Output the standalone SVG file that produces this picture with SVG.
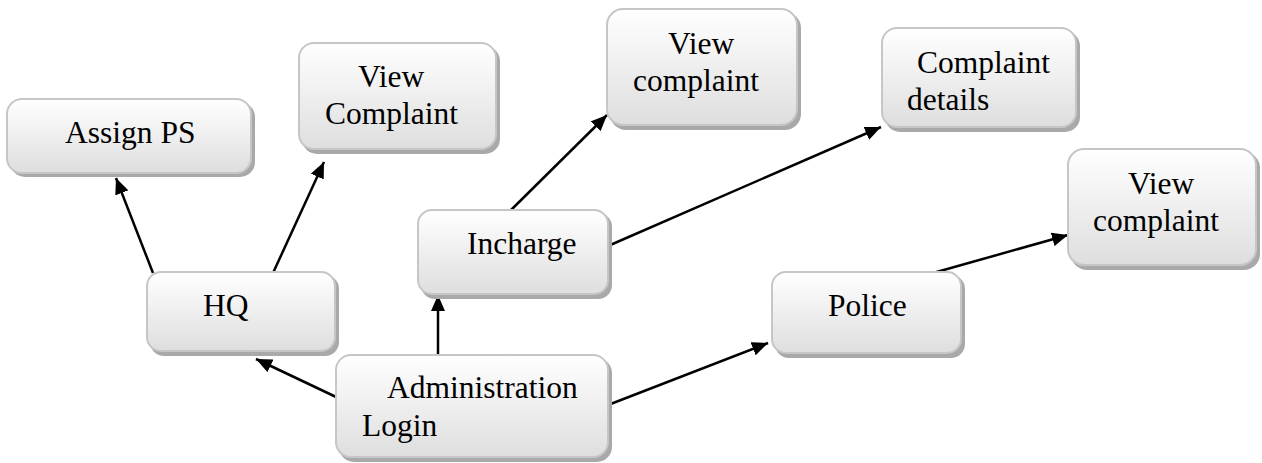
<svg xmlns="http://www.w3.org/2000/svg" width="1262" height="463" viewBox="0 0 1262 463">
<style>
.box{fill:url(#g);stroke:#c6c6c6;stroke-width:2}
.sh{fill:#a9a9a9}
.t{font-family:"Liberation Serif","Times New Roman",serif;font-size:31.5px;fill:#000}
.c{stroke:#000;stroke-width:2.5;fill:none;marker-end:url(#ah)}
</style>
<defs>
<linearGradient id="g" x1="0" y1="0" x2="0" y2="1">
<stop offset="0" stop-color="#ffffff"/>
<stop offset="1" stop-color="#dedede"/>
</linearGradient>
<marker id="ah" markerUnits="userSpaceOnUse" markerWidth="18" markerHeight="14" refX="16" refY="7" orient="auto">
<path d="M0,0 L16,7 L0,14 Z" fill="#000"/>
</marker>
</defs>
<rect width="1262" height="463" fill="#fff"/>
<g id="connectors">
<line class="c" x1="153" y1="273" x2="116" y2="178"/>
<line class="c" x1="273" y1="273" x2="324" y2="162"/>
<line class="c" x1="353" y1="405" x2="256" y2="359"/>
<line class="c" x1="438" y1="355" x2="438" y2="295"/>
<line class="c" x1="510" y1="211" x2="607" y2="115"/>
<line class="c" x1="608" y1="246" x2="881" y2="127"/>
<line class="c" x1="608" y1="405" x2="768" y2="343"/>
<line class="c" x1="933" y1="273" x2="1068" y2="235"/>
</g>
<g id="assign-ps">
<rect class="sh" x="10" y="102" width="245" height="75" rx="15"/>
<rect class="box" x="7" y="99" width="244" height="74" rx="15"/>
<text class="t" x="65" y="143">Assign PS</text>
</g>
<g id="hq-view-complaint">
<rect class="sh" x="302" y="46" width="198" height="108" rx="15"/>
<rect class="box" x="299" y="43" width="197" height="106" rx="15"/>
<text class="t" x="358" y="87">View</text>
<text class="t" x="325" y="124">Complaint</text>
</g>
<g id="incharge-view-complaint">
<rect class="sh" x="610" y="12" width="191" height="118" rx="16"/>
<rect class="box" x="607" y="9" width="190" height="116" rx="16"/>
<text class="t" x="668" y="54">View</text>
<text class="t" x="633" y="91">complaint</text>
</g>
<g id="complaint-details">
<rect class="sh" x="885" y="31" width="195" height="101" rx="15"/>
<rect class="box" x="882" y="28" width="194" height="99" rx="15"/>
<text class="t" x="917" y="73">Complaint</text>
<text class="t" x="907" y="110">details</text>
</g>
<g id="police-view-complaint">
<rect class="sh" x="1071" y="152" width="189" height="118" rx="16"/>
<rect class="box" x="1068" y="149" width="188" height="116" rx="16"/>
<text class="t" x="1128" y="194">View</text>
<text class="t" x="1093" y="231">complaint</text>
</g>
<g id="incharge">
<rect class="sh" x="421" y="213" width="191" height="86" rx="14"/>
<rect class="box" x="418" y="210" width="190" height="84" rx="14"/>
<text class="t" x="467" y="254">Incharge</text>
</g>
<g id="hq">
<rect class="sh" x="150" y="275" width="189" height="81" rx="14"/>
<rect class="box" x="147" y="272" width="188" height="79" rx="14"/>
<text class="t" x="203" y="316">HQ</text>
</g>
<g id="police">
<rect class="sh" x="775" y="275" width="190" height="83" rx="14"/>
<rect class="box" x="772" y="272" width="189" height="81" rx="14"/>
<text class="t" x="828" y="316">Police</text>
</g>
<g id="administration-login">
<rect class="sh" x="339" y="358" width="273" height="104" rx="15"/>
<rect class="box" x="336" y="355" width="272" height="102" rx="15"/>
<text class="t" x="387" y="398">Administration</text>
<text class="t" x="362" y="436">Login</text>
</g>
</svg>
